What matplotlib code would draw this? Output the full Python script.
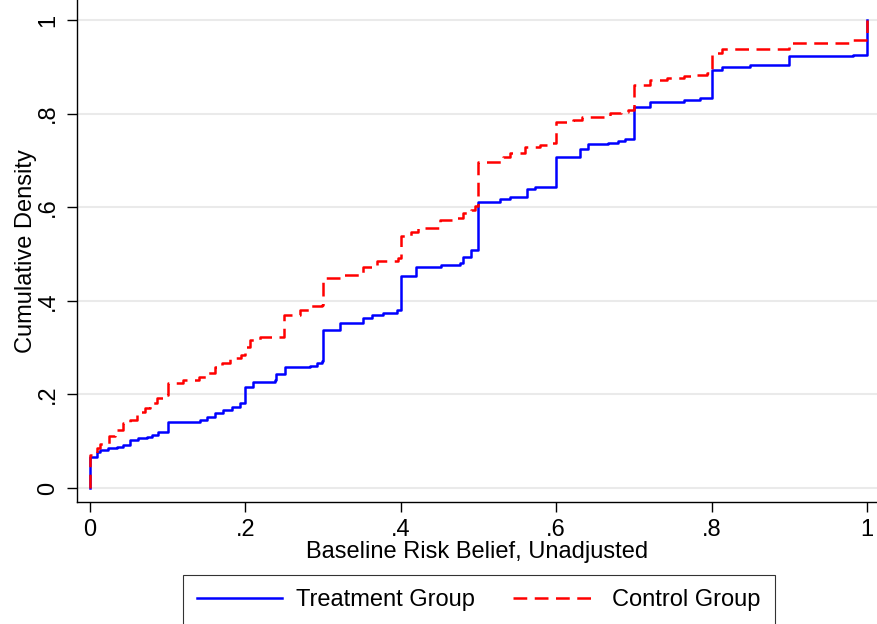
import matplotlib.pyplot as plt

plt.rcParams['font.family'] = ['Liberation Sans', 'DejaVu Sans']

treat_x = [0, 0, 0.009, 0.013, 0.023, 0.035, 0.042, 0.051, 0.062, 0.073, 0.08, 0.088,
           0.1, 0.142, 0.151, 0.161, 0.171, 0.183, 0.193, 0.2, 0.21, 0.238, 0.24, 0.251,
           0.283, 0.292, 0.298, 0.3, 0.322, 0.352, 0.363, 0.377, 0.395, 0.4, 0.419, 0.452,
           0.476, 0.48, 0.491, 0.499, 0.5, 0.511, 0.528, 0.541, 0.562, 0.573, 0.6, 0.631,
           0.641, 0.667, 0.68, 0.689, 0.7, 0.721, 0.764, 0.785, 0.8, 0.813, 0.849, 0.9,
           0.982, 1.0]
treat_y = [0, 0.066, 0.077, 0.081, 0.085, 0.088, 0.092, 0.103, 0.107, 0.109, 0.113, 0.12,
           0.141, 0.145, 0.152, 0.16, 0.167, 0.173, 0.181, 0.216, 0.227, 0.231, 0.244, 0.258,
           0.261, 0.266, 0.272, 0.338, 0.352, 0.363, 0.37, 0.374, 0.38, 0.453, 0.472, 0.476,
           0.48, 0.493, 0.508, 0.513, 0.61, 0.612, 0.617, 0.622, 0.638, 0.644, 0.708, 0.724,
           0.735, 0.738, 0.741, 0.746, 0.815, 0.825, 0.83, 0.834, 0.893, 0.9, 0.904, 0.922,
           0.925, 1.0]

ctrl_x = [0, 0, 0.009, 0.013, 0.024, 0.032, 0.043, 0.051, 0.06, 0.071, 0.077, 0.086, 0.094,
          0.1, 0.12, 0.14, 0.152, 0.161, 0.17, 0.18, 0.195, 0.2, 0.206, 0.219, 0.242, 0.25,
          0.27, 0.283, 0.298, 0.3, 0.322, 0.352, 0.369, 0.397, 0.4, 0.413, 0.422, 0.45,
          0.467, 0.48, 0.49, 0.496, 0.5, 0.532, 0.541, 0.56, 0.579, 0.595, 0.6, 0.622,
          0.633, 0.669, 0.684, 0.693, 0.7, 0.721, 0.742, 0.764, 0.777, 0.794, 0.8, 0.813,
          0.9, 0.977, 1.0]
ctrl_y = [0, 0.07, 0.085, 0.095, 0.11, 0.124, 0.138, 0.145, 0.163, 0.17, 0.181, 0.192, 0.199,
          0.224, 0.231, 0.238, 0.245, 0.259, 0.266, 0.277, 0.284, 0.302, 0.316, 0.322, 0.323,
          0.37, 0.38, 0.389, 0.391, 0.448, 0.455, 0.472, 0.484, 0.491, 0.538, 0.548, 0.555,
          0.573, 0.576, 0.587, 0.593, 0.602, 0.697, 0.708, 0.715, 0.729, 0.733, 0.738, 0.783,
          0.786, 0.793, 0.801, 0.804, 0.808, 0.861, 0.872, 0.876, 0.88, 0.882, 0.887, 0.929,
          0.937, 0.951, 0.957, 1.0]

ticks = [0, 0.2, 0.4, 0.6, 0.8, 1]
tick_labels = ['0', '.2', '.4', '.6', '.8', '1']

fs = 17

fig = plt.figure(figsize=(8.77, 6.24), dpi=100)
ax = fig.add_axes([77 / 877, 1 - 502 / 624, 800 / 877, 502 / 624])

ax.step(treat_x, treat_y, where='post', color='#0000ff', lw=1.8,
        label='Treatment Group')
ax.step(ctrl_x, ctrl_y, where='post', color='#ff0000', lw=1.8,
        linestyle=(0, (5.5, 3)), label='Control Group')

ax.set_xlim(-0.0167, 1.0129)
ax.set_ylim(-0.030, 1.0427)
ax.set_xticks(ticks)
ax.set_xticklabels(tick_labels)
ax.set_yticks(ticks)
ax.set_yticklabels(tick_labels, rotation=90, va='center')
ax.tick_params(labelsize=fs, length=7, width=1, direction='out')
ax.tick_params(axis='x', pad=5)
ax.tick_params(axis='y', pad=6)

ax.yaxis.grid(True, color='#eaeaea', lw=1.5)
ax.set_axisbelow(True)
for s in ['top', 'right']:
    ax.spines[s].set_visible(False)
for s in ['left', 'bottom']:
    ax.spines[s].set_linewidth(1)

ax.set_xlabel('Baseline Risk Belief, Unadjusted', fontsize=fs, labelpad=0)
ax.set_ylabel('Cumulative Density', fontsize=fs, labelpad=0)

h, l = ax.get_legend_handles_labels()
leg = fig.legend(h, l, loc='upper center', bbox_to_anchor=(479 / 877, 1 - 575 / 624),
                 ncol=2, fontsize=fs, frameon=True, fancybox=False,
                 edgecolor='black', handlelength=3.6, handletextpad=0.6,
                 columnspacing=1.6, borderpad=0.6, borderaxespad=0)
leg.get_frame().set_linewidth(0.8)

fig.savefig('out.png', dpi=100)
